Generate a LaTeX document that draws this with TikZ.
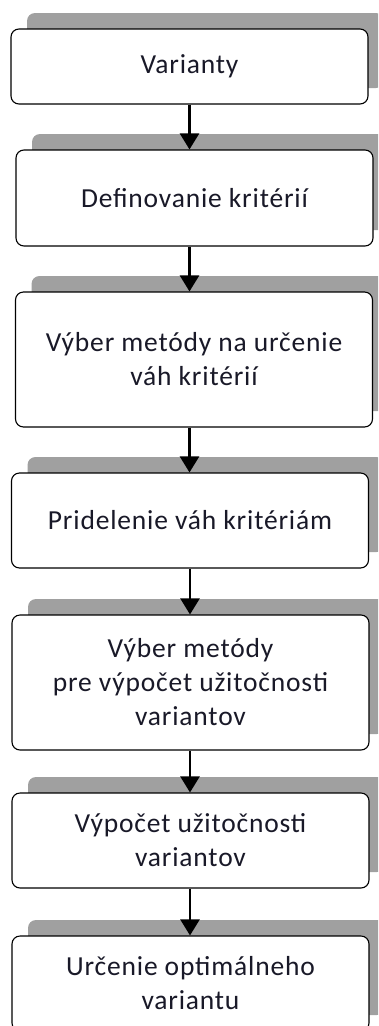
\documentclass[tikz,border=0pt]{standalone}
\usepackage{fontspec}
\setmainfont[LetterSpace=3]{Carlito}
\usepackage{tikz}
\usetikzlibrary{arrows.meta,shadows}

\definecolor{shadowgray}{RGB}{160,160,160}
\definecolor{textink}{RGB}{25,25,40}

\begin{document}
\begin{tikzpicture}[x=1pt,y=1pt]
  % Page frame of the picture
  \clip (0,0) rectangle (378,-1026);

  % Define a style for consistent boxes and arrows
  \tikzset{
    stepbox/.style={draw, line width=1.1pt, black, fill=white, rounded corners=8pt,
      minimum width=357pt, inner sep=0pt, align=center, text=textink,
      font=\fontsize{27.5}{34}\selectfont,
      drop shadow={shadow xshift=16pt, shadow yshift=16pt, fill=shadowgray, opacity=1}},
    steparrow/.style={line width=2.4pt, black, -{Triangle[width=19pt,length=16pt]}}
  }

  % Draw the boxes of the procedure
  \node[stepbox, minimum height=75pt]  (b1) at (189.5,-66.5) {Varianty};
  \node[stepbox, minimum height=96pt]  (b2) at (194.5,-198)  {Definovanie kritérií};
  \node[stepbox, minimum height=135pt] (b3) at (194,-359.5)  {Výber metódy na určenie\\váh kritérií};
  \node[stepbox, minimum height=95pt]  (b4) at (190,-520.5)  {Pridelenie váh kritériám};
  \node[stepbox, minimum height=135pt] (b5) at (190.5,-682.5) {Výber metódy\\pre výpočet užitočnosti\\variantov};
  \node[stepbox, minimum height=95pt]  (b6) at (190.5,-840.5) {Výpočet užitočnosti\\variantov};
  \node[stepbox, minimum height=95pt]  (b7) at (190.5,-983.5) {Určenie optimálneho\\variantu};

  % Draw arrows connecting the boxes
  \draw[steparrow] (b1.south) -- (b1.south |- b2.north);
  \draw[steparrow] (b2.south -| b1.south) -- (b1.south |- b3.north);
  \draw[steparrow] (b3.south -| b1.south) -- (b1.south |- b4.north);
  \draw[steparrow] (b4.south) -- (b5.north -| b4.south);
  \draw[steparrow] (b5.south -| b4.south) -- (b6.north -| b4.south);
  \draw[steparrow] (b6.south -| b4.south) -- (b7.north -| b4.south);

\end{tikzpicture}
\end{document}
